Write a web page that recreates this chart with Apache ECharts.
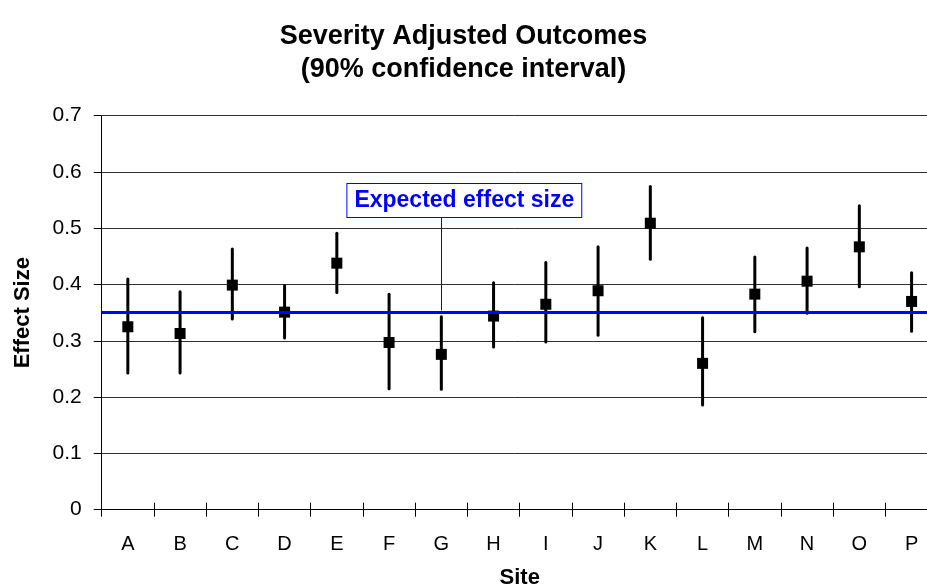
<!DOCTYPE html>
<html>
<head>
<meta charset="utf-8">
<script src="https://cdn.jsdelivr.net/npm/echarts@6/dist/echarts.min.js"></script>
<style>html,body{margin:0;padding:0;background:#fff;}#chart{width:927px;height:587px;}</style>
</head>
<body>
<div id="chart"></div>
<script>
var sites = ['A','B','C','D','E','F','G','H','I','J','K','L','M','N','O','P'];
var effect = [0.325,0.313,0.399,0.351,0.438,0.297,0.276,0.344,0.365,0.389,0.509,0.260,0.383,0.406,0.467,0.370];
var upper  = [0.410,0.387,0.463,0.398,0.491,0.383,0.343,0.403,0.439,0.467,0.574,0.341,0.449,0.465,0.540,0.421];
var lower  = [0.243,0.243,0.339,0.305,0.386,0.215,0.214,0.289,0.298,0.310,0.445,0.186,0.316,0.349,0.396,0.317];
var expectedEffect = 0.354;
var annotationSite = 'G';
var annotationAnchor = 0.52;
var yTicks = [0, 0.1, 0.2, 0.3, 0.4, 0.5, 0.6, 0.7];

var errData = sites.map(function (s, i) { return [i, lower[i], upper[i]]; });
var FONT = '"Liberation Sans", Arial, sans-serif';

var chart = echarts.init(document.getElementById('chart'));
chart.setOption({
  backgroundColor: '#fff',
  animation: false,
  title: {
    text: 'Severity Adjusted Outcomes\n(90% confidence interval)',
    left: 'center',
    top: 15,
    textStyle: { fontFamily: FONT, fontWeight: 'bold', fontSize: 27, lineHeight: 33, color: '#000' }
  },
  grid: { left: 101.7, width: 836, top: 115.7, height: 394, containLabel: false, outerBoundsMode: 'none' },
  xAxis: [{
    type: 'category',
    data: sites,
    boundaryGap: true,
    name: 'Site',
    nameLocation: 'middle',
    nameGap: 57,
    nameTextStyle: { fontFamily: FONT, fontWeight: 'bold', fontSize: 22, color: '#000' },
    axisLine: { lineStyle: { color: '#000', width: 1 } },
    axisTick: { show: true, length: 7, lineStyle: { color: '#000' } },
    axisLabel: { fontFamily: FONT, fontSize: 20, color: '#000', margin: 25, interval: 0 },
    splitLine: { show: false }
  }, {
    type: 'category',
    data: sites,
    position: 'bottom',
    boundaryGap: true,
    axisLine: { show: false },
    axisTick: { show: true, inside: true, length: 7, lineStyle: { color: '#000' } },
    axisLabel: { show: false },
    splitLine: { show: false }
  }],
  yAxis: {
    type: 'value',
    min: yTicks[0],
    max: yTicks[yTicks.length - 1],
    interval: 0.1,
    name: 'Effect Size',
    nameLocation: 'middle',
    nameGap: 68,
    nameTextStyle: { fontFamily: FONT, fontWeight: 'bold', fontSize: 22, color: '#000' },
    axisLine: { show: true, lineStyle: { color: '#000', width: 1 } },
    axisTick: { show: true, length: 8, lineStyle: { color: '#000' } },
    axisLabel: { fontFamily: FONT, fontSize: 21, color: '#000', margin: 20 },
    splitLine: { show: true, lineStyle: { color: '#303030', width: 1 } }
  },
  series: [{
    type: 'line',
    data: [],
    z: 1,
    markLine: {
      silent: true,
      symbol: 'none',
      label: { show: false },
      data: [
        { yAxis: expectedEffect, lineStyle: { color: '#0000ff', width: 3, type: 'solid', opacity: 1 } },
        [
          { coord: [annotationSite, expectedEffect], lineStyle: { color: '#0000ff', width: 1, type: 'solid', opacity: 1 } },
          { coord: [annotationSite, annotationAnchor] }
        ]
      ]
    },
    markPoint: {
      silent: true,
      symbol: 'rect',
      symbolSize: 0,
      data: [{
        coord: [annotationSite, annotationAnchor],
        label: {
          show: true,
          position: 'top',
          distance: 0,
          offset: [23, 0],
          formatter: 'Expected effect size',
          fontFamily: FONT,
          fontWeight: 'bold',
          fontSize: 23,
          lineHeight: 23,
          color: '#0000ff',
          backgroundColor: '#fff',
          borderColor: '#0000ff',
          borderWidth: 1,
          padding: [5, 7, 5, 7]
        }
      }]
    }
  }, {
    type: 'custom',
    z: 2,
    data: errData,
    renderItem: function (params, api) {
      var x = api.value(0);
      var lo = api.coord([x, api.value(1)]);
      var hi = api.coord([x, api.value(2)]);
      return {
        type: 'line',
        shape: { x1: lo[0], y1: lo[1], x2: hi[0], y2: hi[1] },
        style: { stroke: '#000', lineWidth: 3, lineCap: 'round' }
      };
    }
  }, {
    type: 'scatter',
    z: 3,
    symbol: 'rect',
    symbolSize: 11,
    itemStyle: { color: '#000', opacity: 1 },
    data: effect
  }]
});
</script>
</body>
</html>
